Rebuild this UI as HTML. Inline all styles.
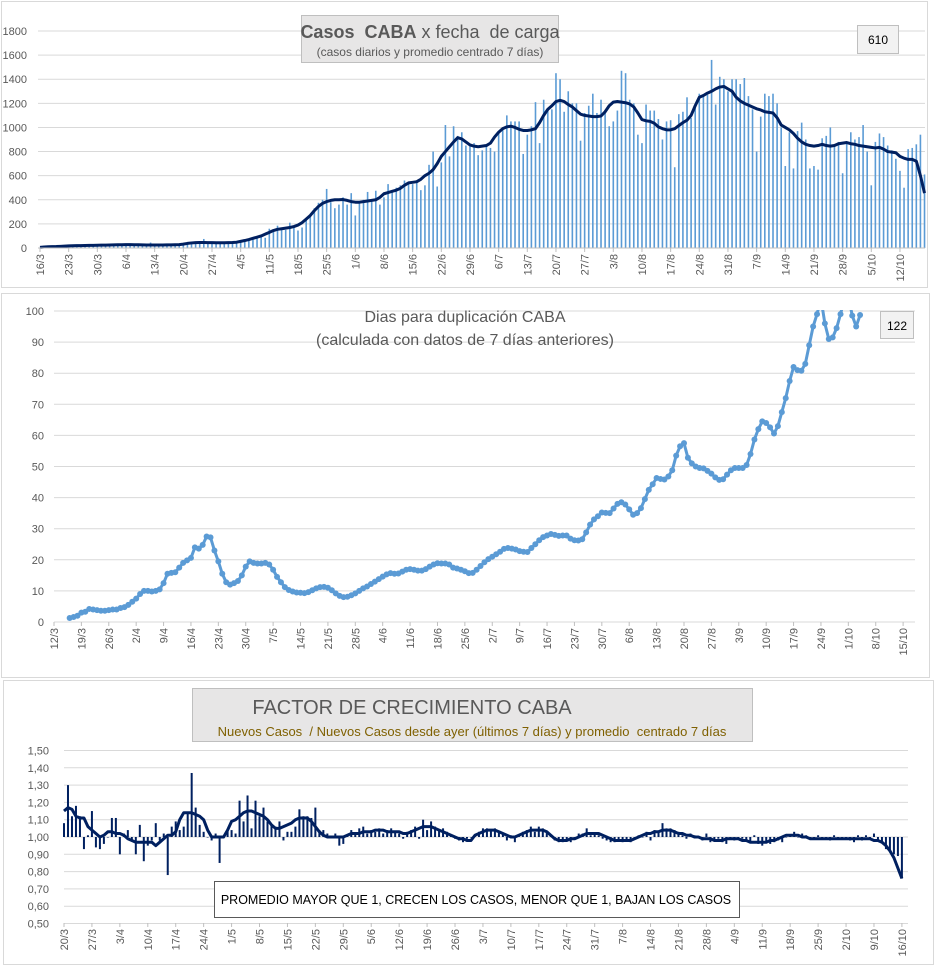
<!DOCTYPE html>
<html><head><meta charset="utf-8"><style>
html,body{margin:0;padding:0;background:#fff;}
svg{display:block;font-family:"Liberation Sans",sans-serif;}
</style></head><body>
<svg id="s" width="935" height="966" viewBox="0 0 935 966" xmlns="http://www.w3.org/2000/svg">
<rect x="1.5" y="1.5" width="926" height="286" fill="#fff" stroke="#d9d9d9"/>
<rect x="1.5" y="293.5" width="928" height="384" fill="#fff" stroke="#d9d9d9"/>
<rect x="3.5" y="680.5" width="930" height="284" fill="#fff" stroke="#d9d9d9"/>
<g id="c1"></g>
<g id="c2"></g>
<g id="c3"></g>
<g>
<rect x="301.5" y="15.5" width="257" height="47" fill="#e7e6e6" stroke="#bfbfbf"/>
<text x="430" y="38" text-anchor="middle" font-size="18" fill="#595959"><tspan font-weight="bold">Casos&#160; CABA</tspan> x fecha&#160; de carga</text>
<text x="430" y="56" text-anchor="middle" font-size="12" fill="#595959">(casos diarios y promedio centrado 7 días)</text>
</g>
<g><rect x="857.5" y="25.5" width="41" height="28" fill="#f2f2f2" stroke="#bfbfbf"/><text x="878" y="44" text-anchor="middle" font-size="12" fill="#000">610</text></g>
<g>
<text x="465" y="322" text-anchor="middle" font-size="16" fill="#595959">Dias para duplicación CABA</text>
<text x="465" y="345" text-anchor="middle" font-size="16" fill="#595959">(calculada con datos de 7 días anteriores)</text>
</g>
<g><rect x="880.5" y="311.5" width="33" height="27" fill="#f2f2f2" stroke="#bfbfbf"/><text x="897" y="330" text-anchor="middle" font-size="12" fill="#000">122</text></g>
<g>
<rect x="192.5" y="688.5" width="560" height="53" fill="#e7e6e6" stroke="#bfbfbf"/>
<text x="412" y="714" text-anchor="middle" font-size="20" fill="#595959">FACTOR DE CRECIMIENTO CABA</text>
<text x="472" y="736" text-anchor="middle" font-size="13" fill="#7f6000" xml:space="preserve">Nuevos Casos  / Nuevos Casos desde ayer (últimos 7 días) y promedio  centrado 7 días</text>
</g>
<g><rect x="214.5" y="881.5" width="525" height="36" fill="#fff" stroke="#595959"/><text x="476" y="904" text-anchor="middle" font-size="12.5" fill="#000">PROMEDIO MAYOR QUE 1, CRECEN LOS CASOS, MENOR QUE 1, BAJAN LOS CASOS</text></g>
</svg>
<script>
// ---- Chart 1 data (daily from 16/3) ----
const c1Labels=["16/3","23/3","30/3","6/4","13/4","20/4","27/4","4/5","11/5","18/5","25/5","1/6","8/6","15/6","22/6","29/6","6/7","13/7","20/7","27/7","3/8","10/8","17/8","24/8","31/8","7/9","14/9","21/9","28/9","5/10","12/10"];
const c1YTicks=[0,200,400,600,800,1000,1200,1400,1600,1800];
const c1Bars=[5,8,10,12,15,18,20, 20,22,18,25,20,22,24, 25,20,22,28,25,24,30, 30,25,28,24,22,20,45, 25,22,20,25,28,30,24, 30,40,45,48,50,75,45, 40,45,42,38,40,45,48, 50,60,75,80,90,95,85, 160,150,185,160,150,210,170, 145,170,230,280,330,375,400, 490,380,330,360,420,360,455, 270,370,400,465,400,475,360, 420,530,480,500,520,560,540, 530,560,480,520,690,800,510, 710,1020,760,1010,930,960,850, 845,870,770,810,850,830,800, 960,1000,1100,1050,1050,1050,780, 940,1010,1210,870,1230,1150,1150, 1450,1400,1130,1300,1200,1200,890, 1120,1180,1280,1120,1230,1120,1010, 1050,1140,1470,1450,1230,1200,940, 870,1190,1140,1140,1070,900,1050, 1060,670,1110,1130,1250,1080,1160, 1280,1270,1270,1560,1190,1420,1400, 1300,1400,1400,1360,1410,1260,1150, 800,1090,1280,1260,1280,1200,1000, 680,960,660,970,1040,900,660, 680,650,910,930,1000,850,880, 620,880,960,900,920,1020,800, 520,880,950,920,850,810,740, 640,500,820,830,860,940,610];
const c1Avg=[5,8,10,11,12,14,16, 18,19,20,20,21,22,22, 23,24,24,25,26,27,27, 28,28,27,27,26,25,25, 25,25,25,26,26,27,28, 32,38,42,45,46,46,45, 45,44,44,44,45,46,48, 55,62,70,80,90,100,115, 130,145,155,160,165,170,178, 190,210,240,270,310,345,370, 385,395,400,400,402,395,385, 380,380,385,390,395,400,420, 450,460,470,480,495,520,540, 545,550,570,600,620,650,700, 760,800,840,880,915,905,880, 855,845,840,845,850,870,920, 960,990,1005,1010,1000,985,975, 975,980,990,1040,1100,1150,1180, 1215,1225,1215,1190,1170,1140,1110, 1100,1095,1090,1090,1095,1130,1180, 1210,1215,1210,1205,1195,1170,1120, 1065,1055,1050,1035,1005,990,980, 980,990,1015,1040,1060,1100,1180, 1250,1265,1285,1300,1320,1335,1340, 1320,1300,1250,1220,1200,1185,1170, 1155,1145,1130,1125,1120,1080,1020, 1000,980,950,910,880,860,850, 845,850,860,850,845,850,865, 870,875,865,860,850,845,840, 835,830,835,820,800,795,790, 760,745,735,735,720,600,455];
// ---- Chart 2 data (daily from 16/3) ----
const c2Labels=["12/3","19/3","26/3","2/4","9/4","16/4","23/4","30/4","7/5","14/5","21/5","28/5","4/6","11/6","18/6","25/6","2/7","9/7","16/7","23/7","30/7","6/8","13/8","20/8","27/8","3/9","10/9","17/9","24/9","1/10","8/10","15/10"];
const c2YTicks=[0,10,20,30,40,50,60,70,80,90,100];
const c2StartOffset=4;
const c2Values=[1.3,1.6,2,3,3.3,4.2,4,3.8,3.6,3.6,3.8,4,4,4.5,4.8,5.5,
6.5,7.5,9,10,10,9.8,10,10.5,12.5,15.5,15.8,16,17.5,19,19.8,20.6,24,23.6,24.8,27.5,27.2,23,19.5,15.5,12.8,12,12.5,13.2,15,17.8,
19.5,19,18.8,18.8,19,18.5,16.8,14.5,12.8,11.2,10.3,9.8,9.5,9.4,9.3,9.6,10.2,10.8,11.2,11.3,11,10.2,9.2,8.4,8,8.1,8.6,9.2,10,10.8,11.4,
12.2,13,13.8,14.6,15.3,15.7,15.5,15.6,16.2,16.8,17,16.8,16.5,16.5,17,17.8,18.5,18.9,18.8,18.8,18.5,17.5,17.2,16.8,
16.3,15.7,15.8,16.8,18,19.2,20.2,21,21.8,22.6,23.5,23.8,23.6,23.3,22.8,22.6,22.5,23.8,25,26.3,27.3,27.8,28.3,28,27.7,27.8,27.8,26.8,26.3,26.2,26.6,28.8,31.3,33,34,35.2,35.1,35,36.5,38,38.5,37.8,36.2,34.5,35,36.6,39.5,42.5,44.3,46.3,46,45.8,46.8,48.8,53.5,56.5,57.5,52.8,51,50,49.5,49.4,48.6,47.7,46.5,45.7,45.9,47.4,48.8,49.5,49.5,49.5,50.5,54,58.7,62,64.5,64,62.6,60.6,63,67.5,72,77.5,82,81,80.8,83,89,95,99,104,96,91,91.5,94.5,99,104,105,98.5,95,98.7];
// ---- Chart 3 data (daily from 20/3) ----
const c3Labels=["20/3","27/3","3/4","10/4","17/4","24/4","1/5","8/5","15/5","22/5","29/5","5/6","12/6","19/6","26/6","3/7","10/7","17/7","24/7","31/7","7/8","14/8","21/8","28/8","4/9","11/9","18/9","25/9","2/10","9/10","16/10"];
const c3YTicks=[0.5,0.6,0.7,0.8,0.9,1.0,1.1,1.2,1.3,1.4,1.5];
const c3Bars=[1.08,1.30,1.12,1.18,1.12,0.93,1.01,1.15,0.94,0.93,0.96,1.0,
1.11,1.11,0.90,1.02,1.04,0.98,0.90,1.07,0.86,0.95,0.98,1.08,0.98,1.02,0.78,1.06,1.09,1.04,1.06,1.14,1.37,1.17,1.07,1.03,1.0,0.98,1.02,0.85,1.0,1.04,
1.04,1.02,1.21,1.09,1.24,1.05,1.21,1.12,1.17,1.09,1.07,1.06,1.09,0.98,1.03,1.03,1.06,1.16,1.12,1.12,1.11,1.17,1.04,1.04,1.02,1.0,1.02,0.95,0.96,1.01,1.04,
1.02,1.05,1.06,1.02,1.04,1.03,1.05,1.02,1.04,1.05,1.03,1.02,0.99,1.03,1.04,1.06,0.99,1.10,1.04,1.09,1.06,1.04,1.05,1.03,1.01,0.99,0.98,0.97,0.99,1.0,
1.01,1.03,1.05,1.05,1.04,1.05,1.03,1.02,0.98,1.01,0.97,1.01,1.03,1.04,1.06,1.03,1.06,1.05,1.03,1.01,0.98,0.97,0.97,0.98,0.97,0.99,1.02,1.02,1.05,1.01,1.02,
1.01,0.99,0.98,0.97,0.97,0.98,0.97,0.98,0.97,0.99,1.01,1.00,1.03,0.98,1.04,1.03,1.08,1.05,1.05,1.04,1.03,1.01,0.99,1.02,1.01,1.00,0.98,1.02,0.97,0.98,0.99,
0.97,0.96,0.99,0.98,1.00,0.99,0.98,0.97,1.01,0.96,0.95,0.97,0.96,0.97,0.98,0.97,1.00,1.01,1.03,1.00,1.02,1.01,1.00,0.99,1.01,0.99,1.00,0.98,1.01,0.99,
1.00,0.99,0.98,0.97,1.01,0.98,1.01,0.99,1.02,0.98,0.97,0.93,0.92,0.90,0.89,0.76];
const c3Avg=[1.15,1.17,1.16,1.12,1.11,1.11,1.06,1.04,1.02,1.00,1.01,1.03,
1.03,1.02,1.02,1.01,0.99,0.98,0.97,0.97,0.97,0.97,0.97,0.95,0.97,0.99,1.01,1.01,1.03,1.10,1.14,1.14,1.14,1.13,1.12,1.10,1.04,1.00,1.00,1.00,1.00,1.04,
1.09,1.10,1.12,1.14,1.15,1.15,1.14,1.13,1.12,1.10,1.07,1.05,1.05,1.06,1.07,1.08,1.10,1.11,1.11,1.11,1.09,1.06,1.03,1.01,1.00,1.00,1.00,1.00,1.00,1.01,1.02,
1.02,1.02,1.03,1.03,1.03,1.04,1.04,1.04,1.03,1.03,1.03,1.03,1.02,1.02,1.03,1.04,1.05,1.06,1.06,1.06,1.05,1.04,1.03,1.02,1.01,1.00,0.99,0.99,0.98,0.98,
1.01,1.02,1.03,1.04,1.04,1.04,1.03,1.02,1.01,1.00,1.00,1.01,1.02,1.03,1.04,1.04,1.04,1.04,1.03,1.01,0.99,0.98,0.98,0.98,0.99,0.99,1.00,1.01,1.02,1.02,1.02,
1.02,1.01,1.00,0.99,0.98,0.98,0.98,0.98,0.98,0.99,1.00,1.01,1.02,1.02,1.03,1.03,1.04,1.04,1.04,1.03,1.02,1.02,1.01,1.01,1.00,1.00,0.99,0.99,0.99,0.98,0.98,
0.98,0.99,0.99,0.99,0.99,0.98,0.98,0.97,0.97,0.97,0.97,0.97,0.98,0.98,0.99,1.00,1.01,1.01,1.01,1.01,1.00,1.00,0.99,0.99,0.99,0.99,0.99,0.99,0.99,0.99,
0.99,0.99,0.99,0.99,0.99,0.99,0.99,0.99,0.98,0.98,0.97,0.95,0.92,0.88,0.82,0.76];

const NS="http://www.w3.org/2000/svg";
function mk(parent,tag,attrs){const e=document.createElementNS(NS,tag);for(const k in attrs)e.setAttribute(k,attrs[k]);parent.appendChild(e);return e;}

// ===== Chart 1 =====
(function(){
const g=document.getElementById('c1');
const x=i=>40+i*4.095, y=v=>248-v*217/1800;
c1YTicks.forEach(t=>{
 const l=mk(g,'line',{x1:38,x2:925,y1:y(t),y2:y(t),stroke:'#d9d9d9','stroke-width':1});
 
 
 const tx=mk(g,'text',{x:27,y:y(t)+4,'text-anchor':'end','font-size':11,fill:'#595959'});tx.textContent=t;
 
 
});
c1Bars.forEach((v,i)=>{
 const r=mk(g,'rect',{x:x(i)-0.8,y:y(v),width:1.6,height:248-y(v),fill:'#5b9bd5'});
 
 
});
const p=mk(g,'polyline',{points:c1Avg.map((v,i)=>x(i)+','+y(v)).join(' '),fill:'none',stroke:'#002060','stroke-width':3,'stroke-linejoin':'round'});


const ax=mk(g,'line',{x1:38,x2:925,y1:248,y2:248,stroke:'#bfbfbf'});


c1Labels.forEach((s,k)=>{
 const xx=x(k*7);
 mk(g,'line',{x1:xx,x2:xx,y1:248,y2:252,stroke:'#bfbfbf'});
 const t=mk(g,'text',{transform:`translate(${xx+4},254) rotate(-90)`,'text-anchor':'end','font-size':11,fill:'#595959'});t.textContent=s;
 
 
});
})();

// ===== Chart 2 =====
(function(){
const g=document.getElementById('c2');
const x=d=>54+d*3.913, y=v=>622-v*3.11;
c2YTicks.forEach(t=>{
 const l=mk(g,'line',{x1:54,x2:915,y1:y(t),y2:y(t),stroke:'#d9d9d9'});
 
 
 const tx=mk(g,'text',{x:44,y:y(t)+4,'text-anchor':'end','font-size':11,fill:'#595959'});tx.textContent=t;
 
 
});
const defs=mk(g,'defs',{});const cp=mk(defs,'clipPath',{id:'clip2'});mk(cp,'rect',{x:40,y:310,width:890,height:320});
const gg=mk(g,'g',{'clip-path':'url(#clip2)'});
const p=mk(gg,'polyline',{points:c2Values.map((v,i)=>x(i+c2StartOffset)+','+y(v)).join(' '),fill:'none',stroke:'#5b9bd5','stroke-width':3,'stroke-linejoin':'round'});


c2Values.forEach((v,i)=>{
 const c=mk(gg,'circle',{cx:x(i+c2StartOffset),cy:y(v),r:3,fill:'#5b9bd5'});
 
 
});
c2Labels.forEach((s,k)=>{
 const xx=x(k*7);
 mk(g,'line',{x1:xx,x2:xx,y1:622,y2:626,stroke:'#bfbfbf'});
 const t=mk(g,'text',{transform:`translate(${xx+4},628) rotate(-90)`,'text-anchor':'end','font-size':11,fill:'#595959'});t.textContent=s;
 
 
});
})();

// ===== Chart 3 =====
(function(){
const g=document.getElementById('c3');
const x=d=>64+d*3.99, y=v=>837-(v-1)*173;
c3YTicks.forEach(t=>{
 const l=mk(g,'line',{x1:64,x2:908,y1:y(t),y2:y(t),stroke:'#d9d9d9'});
 
 
 const tx=mk(g,'text',{x:49,y:y(t)+4,'text-anchor':'end','font-size':11,fill:'#595959'});tx.textContent=t.toFixed(2).replace('.',',');
 
 
});
c3Bars.forEach((v,i)=>{
 const y0=Math.min(y(1),y(v)),h=Math.abs(y(v)-y(1));
 const r=mk(g,'rect',{x:x(i)-1,y:y0,width:2,height:Math.max(h,0.5),fill:'#002060'});
 
 
});
const p=mk(g,'polyline',{points:c3Avg.map((v,i)=>x(i)+','+y(v)).join(' '),fill:'none',stroke:'#002060','stroke-width':3,'stroke-linejoin':'round'});


c3Labels.forEach((s,k)=>{
 const xx=x(k*7);
 mk(g,'line',{x1:xx,x2:xx,y1:923,y2:927,stroke:'#bfbfbf'});
 const t=mk(g,'text',{transform:`translate(${xx+4},929) rotate(-90)`,'text-anchor':'end','font-size':11,fill:'#595959'});t.textContent=s;
 
 
});
})();
</script>
</body></html>
